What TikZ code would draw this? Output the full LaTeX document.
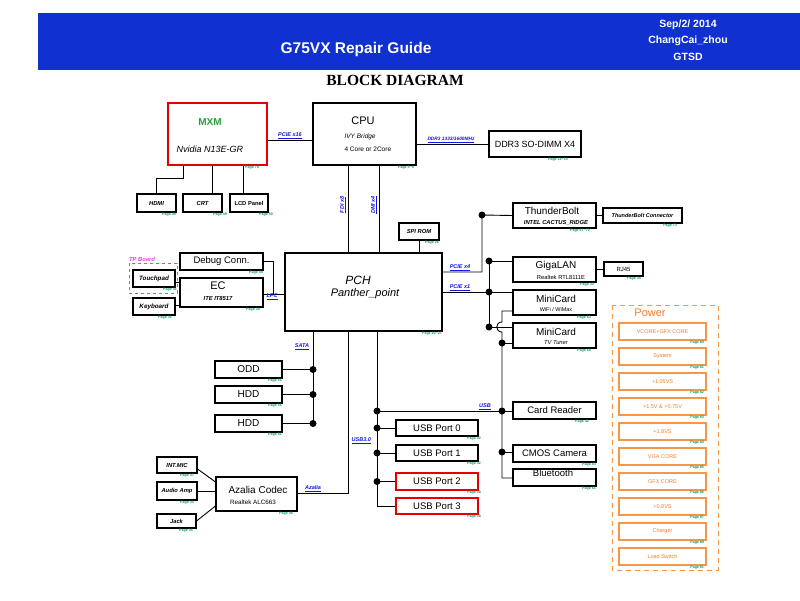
\documentclass[tikz,border=0pt]{standalone}
\usepackage{fontspec}
\setmainfont{Liberation Sans}
\newfontfamily\tnrfont{Liberation Serif}
\newcommand{\myfs}[1]{\fontsize{#1}{#1}\selectfont}
\definecolor{hdrblue}{RGB}{16,48,208}
\definecolor{busblue}{RGB}{20,20,235}
\definecolor{pgreen}{RGB}{0,150,90}
\definecolor{pwrorange}{RGB}{247,150,70}
\definecolor{pwrtext}{RGB}{240,125,45}
\definecolor{tpmag}{RGB}{230,60,220}
\definecolor{mxmgreen}{RGB}{40,160,60}
\begin{document}
\begin{tikzpicture}[x=1pt,y=-1pt,
  box/.style={draw, line width=1.1pt, inner sep=0pt, fill=white},
  redbox/.style={box, draw=red!90!black},
  pwrbox/.style={draw=pwrorange, line width=1.3pt, inner sep=0pt, minimum width=87, minimum height=17, text=pwrtext, font=\myfs{5.5}},
  wire/.style={line width=0.9pt},
  dot/.style={circle, fill=black, inner sep=0pt, minimum size=7pt},
  pg/.style={text=pgreen, font=\bfseries\myfs{3.6}, inner sep=0.5pt, anchor=north east},
  bus/.style={text=busblue, font=\bfseries\itshape\myfs{5.5}, inner sep=0.5pt},
  hdr/.style={text=white, font=\bfseries\myfs{10.5}, inner sep=0pt}
]
\useasboundingbox (0,0) rectangle (800,600);

% ---------- header ----------
\node[fill=hdrblue, minimum width=762, minimum height=57, anchor=north west, inner sep=0pt] (band) at (38,13) {};
\node[hdr, font=\bfseries\myfs{15.5}] (title) at (356,49) {G75VX Repair Guide};
\node[hdr] (date) at (688,25) {Sep/2/ 2014};
\node[hdr] (author) at (688,41) {ChangCai\_zhou};
\node[hdr] (dept) at (688,57) {GTSD};
\node[font=\tnrfont\bfseries\myfs{15.5}, inner sep=0pt] (bd) at (395,80) {BLOCK DIAGRAM};

% ---------- top: MXM / CPU / DDR ----------
\node[redbox, minimum width=99, minimum height=62] (mxm) at (217.5,134) {};
\node[text=mxmgreen, font=\bfseries\myfs{10}] (mxmt) at (210,122) {MXM};
\node[font=\itshape\myfs{9}] (mxms) at (210,149) {Nvidia N13E-GR};
\node[pg] (pmxm) at ([xshift=-8pt]mxm.south east) {Page 70};

\node[box, minimum width=103, minimum height=62] (cpu) at (364.5,134) {};
\node[font=\myfs{11}] (cput) at (363,121) {CPU};
\node[font=\itshape\myfs{6.5}, anchor=west] (cpus1) at (341,137) {IVY Bridge};
\node[font=\myfs{6.5}, anchor=west] (cpus2) at (341,149) {4 Core or 2Core};
\node[pg] (pcpu) at ([xshift=-2pt]cpu.south east) {Page 3\textasciitilde 9};

\node[box, minimum width=92, minimum height=26, font=\myfs{9}] (ddr) at (535,144) {DDR3 SO-DIMM X4};
\node[pg] (pddr) at ([xshift=-13pt]ddr.south east) {Page 14\textasciitilde 15};

\draw[wire] ([yshift=-6pt]mxm.east) -- ([yshift=-6pt]cpu.west);
\node[bus, anchor=south] (lpcie16) at (290,139) {\underline{PCIE x16}};
\draw[wire] ([yshift=-10pt]cpu.east) -- (ddr.west);
\node[bus, anchor=south, font=\bfseries\itshape\myfs{4.8}] (lddr) at (451,143) {\underline{DDR3 1333/1600MHz}};

% ---------- display outputs ----------
\node[box, minimum width=39, minimum height=18, font=\bfseries\itshape\myfs{5.8}] (hdmi) at (156.5,203) {HDMI};
\node[box, minimum width=39, minimum height=18, font=\bfseries\itshape\myfs{5.8}] (crt) at (202.5,203) {CRT};
\node[box, minimum width=38, minimum height=18, font=\bfseries\myfs{5.8}] (lcd) at (249,203) {LCD Panel};
\node[pg] (phdmi) at (hdmi.south east) {Page 48};
\node[pg] (pcrt) at ([xshift=5pt]crt.south east) {Page 49};
\node[pg] (plcd) at ([xshift=5pt]lcd.south east) {Page 50};
\draw[wire] ([xshift=-34.5pt]mxm.south) -- ++(0,13) -| (hdmi.north);
\draw[wire] ([xshift=9.5pt]crt.north) -- ([xshift=9.5pt]crt.north |- mxm.south);
\draw[wire] ([xshift=-6pt]lcd.north) -- ([xshift=-6pt]lcd.north |- mxm.south);

% ---------- PCH ----------
\node[box, minimum width=157, minimum height=78] (pch) at (363.5,292) {};
\node[font=\itshape\myfs{12}] (pcht) at (358,280) {PCH};
\node[font=\itshape\myfs{11}] (pchs) at (365,294) {Panther\_point};
\node[pg] (ppch) at (pch.south east) {Page 20\textasciitilde 27};

\draw[wire] ([xshift=-16.5pt]cpu.south) -- ([xshift=-16.5pt]cpu.south |- pch.north);
\draw[wire] ([xshift=14.5pt]cpu.south) -- ([xshift=14.5pt]cpu.south |- pch.north);
\node[bus, rotate=90] (lfdi) at (343,205) {\underline{FDI x8}};
\node[bus, rotate=90] (ldmi) at (374,205) {\underline{DMI x4}};

\node[box, minimum width=40, minimum height=17, font=\bfseries\itshape\myfs{5.8}] (spi) at (419,231.5) {SPI ROM};
\node[pg] (pspi) at (spi.south east) {Page 26};
\draw[wire] (spi.south) -- (spi.south |- pch.north);

% ---------- Thunderbolt ----------
\node[box, minimum width=83, minimum height=25] (tb) at (554.5,215.5) {};
\node[font=\myfs{10}] (tbt) at (552,211) {ThunderBolt};
\node[font=\bfseries\itshape\myfs{5.8}] (tbs) at (556,223) {INTEL CACTUS\_RIDGE};
\node[pg] (ptb) at ([xshift=-6pt]tb.south east) {Page 67\textasciitilde 72};
\node[box, minimum width=79, minimum height=15, font=\bfseries\itshape\myfs{5.5}] (tbc) at (642.5,215.5) {ThunderBolt Connector};
\node[pg] (ptbc) at ([xshift=-5pt]tbc.south east) {Page 73};
\draw[wire] (tb.east) -- (tbc.west);
\node[dot] (dtb) at (482,215) {};
\draw[wire] ([yshift=20pt]pch.east) -| (dtb.center) -- (tb.west);
\node[bus, anchor=south] (lpcie4) at (460,271) {\underline{PCIE x4}};

% ---------- LAN / MiniCard ----------
\node[box, minimum width=83, minimum height=25] (lan) at (554.5,269.5) {};
\node[font=\myfs{10}] (lant) at (556,265.5) {GigaLAN};
\node[font=\myfs{5.8}] (lans) at (561,277) {Realtek RTL8111E};
\node[pg] (plan) at ([xshift=-2pt]lan.south east) {Page 33};
\node[box, minimum width=39, minimum height=14, font=\myfs{6}] (rj) at (623.5,269) {RJ45};
\node[pg] (prj) at ([xshift=-2pt]rj.south east) {Page 34};
\draw[wire] (lan.east |- rj.west) -- (rj.west);

\node[box, minimum width=83, minimum height=25] (mc1) at (554.5,302.5) {};
\node[font=\myfs{10}] (mc1t) at (556,298.5) {MiniCard};
\node[font=\myfs{5.5}] (mc1s) at (556,310) {WiFi / WiMax};
\node[pg] (pmc1) at ([xshift=-5pt]mc1.south east) {Page 63};
\node[box, minimum width=83, minimum height=25] (mc2) at (554.5,335.5) {};
\node[font=\myfs{10}] (mc2t) at (556,331.5) {MiniCard};
\node[font=\itshape\myfs{5.8}] (mc2s) at (556,343) {TV Tuner};
\node[pg] (pmc2) at ([xshift=-5pt]mc2.south east) {Page 64};

\node[dot] (dp1) at (489,261) {};
\node[dot] (dp2) at (489,292) {};
\node[dot] (dp3) at (489,327) {};
\draw[wire] (pch.east) -- (dp2.center);
\draw[wire] (dp1.center) -- (dp3.center);
\draw[wire] (dp1.center) -- (lan.west |- dp1.center);
\draw[wire] (dp2.center) -- (mc1.west |- dp2.center);
\draw[wire] (dp3.center) -- (mc2.west |- dp3.center);
\node[bus, anchor=south] (lpcie1) at (460,291) {\underline{PCIE x1}};

% ---------- right USB bus ----------
\node[box, minimum width=83, minimum height=17, font=\myfs{9.5}] (card) at (554.5,410.5) {Card Reader};
\node[pg] (pcard) at ([xshift=-7pt]card.south east) {Page 42};
\node[box, minimum width=83, minimum height=17, font=\myfs{9.5}] (cmos) at (554.5,453.5) {CMOS Camera};
\node[pg] (pcmos) at (cmos.south east) {Page 43};
\node[box, minimum width=83, minimum height=17] (bt) at (554.5,477.5) {};
\node[font=\myfs{9.5}] (btt) at (553,473.5) {Bluetooth};
\node[pg] (pbt) at (bt.south east) {Page 61};

\coordinate (ur0) at (502,311);
\node[dot] (du1) at (502,343) {};
\node[dot] (du2) at (502,411) {};
\node[dot] (du3) at (502,452) {};
\coordinate (ur4) at (502,478);
\draw[wire] (mc1.west |- ur0) -- (ur0) -- (502,322) .. controls (495,322) and (495,332) .. (502,332) -- (ur4) -- (bt.west |- ur4);
\draw[wire] (du1.center) -- (mc2.west |- du1.center);
\draw[wire] (du2.center) -- (card.west |- du2.center);
\draw[wire] (du3.center) -- (cmos.west |- du3.center);
\node[bus, anchor=south] (lusb) at (485,410) {\underline{USB}};

% ---------- left USB bus ----------
\node[box, minimum width=82, minimum height=16, font=\myfs{9.5}] (usb0) at (437,428) {USB Port 0};
\node[box, minimum width=82, minimum height=16, font=\myfs{9.5}] (usb1) at (437,453) {USB Port 1};
\node[redbox, minimum width=82, minimum height=17, font=\myfs{9.5}] (usb2) at (437,481.5) {USB Port 2};
\node[redbox, minimum width=82, minimum height=16, font=\myfs{9.5}] (usb3) at (437,506) {USB Port 3};
\node[pg] (pusb0) at ([xshift=3pt]usb0.south east) {Page 32};
\node[pg] (pusb1) at ([xshift=3pt]usb1.south east) {Page 32};
\node[pg] (pusb2) at ([xshift=3pt]usb2.south east) {Page 38};
\node[pg] (pusb3) at ([xshift=3pt]usb3.south east) {Page 38};
\node[dot] (dl0) at (377,411) {};
\node[dot] (dl1) at (377,428) {};
\node[dot] (dl2) at (377,453) {};
\node[dot] (dl3) at (377,481.5) {};
\coordinate (dl4) at (377,506);
\draw[wire] ([xshift=13.5pt]pch.south) -- (dl4) -- (usb3.west);
\draw[wire] (dl0.center) -- (du2.center);
\draw[wire] (dl1.center) -- (usb0.west);
\draw[wire] (dl2.center) -- (usb1.west);
\draw[wire] (dl3.center) -- (usb2.west);
\node[bus, anchor=west] (lusb3) at (351,441) {\underline{USB3.0}};

% ---------- SATA ----------
\node[box, minimum width=67, minimum height=17, font=\myfs{10}] (odd) at (248.5,369.5) {ODD};
\node[box, minimum width=67, minimum height=17, font=\myfs{10}] (hdd1) at (248.5,394.5) {HDD};
\node[box, minimum width=67, minimum height=17, font=\myfs{10}] (hdd2) at (248.5,423.5) {HDD};
\node[pg] (podd) at (odd.south east) {Page 51};
\node[pg] (phdd1) at (hdd1.south east) {Page 51};
\node[pg] (phdd2) at (hdd2.south east) {Page 51};
\node[dot] (ds1) at (313,369.5) {};
\node[dot] (ds2) at (313,394.5) {};
\coordinate (ds3c) at (313,423.5);
\node[dot] (ds3) at (ds3c) {};
\draw[wire] ([xshift=-50.5pt]pch.south) -- (ds3c);
\draw[wire] (odd.east) -- (ds1.center);
\draw[wire] (hdd1.east) -- (ds2.center);
\draw[wire] (hdd2.east) -- (ds3.center);
\node[bus] (lsata) at (302,347) {\underline{SATA}};

% ---------- LPC side ----------
\node[box, minimum width=83, minimum height=17, font=\myfs{9.5}] (dbg) at (221.5,261.5) {Debug Conn.};
\node[pg] (pdbg) at (dbg.south east) {Page 44};
\node[box, minimum width=83, minimum height=29] (ec) at (221.5,292.5) {};
\node[font=\myfs{11}] (ect) at (218,286) {EC};
\node[font=\bfseries\itshape\myfs{5.8}] (ecs) at (218,298.5) {ITE IT8517};
\node[pg] (pec) at ([xshift=-3pt]ec.south east) {Page 30};
\draw[tpmag, dashed, line width=0.7pt] (129,263) rectangle (177,293);
\node[text=tpmag, font=\bfseries\itshape\myfs{5.8}, anchor=west, inner sep=0pt] (tpb) at (129,259) {TP Board};
\node[box, minimum width=42, minimum height=17, font=\bfseries\itshape\myfs{6.3}] (tpad) at (154,278.5) {Touchpad};
\node[pg] (ptpad) at ([xshift=2pt]tpad.south east) {Page 31};
\node[box, minimum width=42, minimum height=17, font=\bfseries\itshape\myfs{6.3}] (kbd) at (154,306.5) {Keyboard};
\node[pg] (pkbd) at ([xshift=-3pt]kbd.south east) {Page 31};
\draw[wire] ([yshift=-3.5pt]tpad.east) -- (ec.west |- 0,282);
\draw[wire] ([yshift=1.5pt]kbd.east) -- (ec.west |- 0,305);
\coordinate (lj) at (273,294);
\draw[wire] (dbg.east) -| (lj);
\draw[wire] (ec.east |- lj) -- (pch.west |- lj);
\node[bus, anchor=north] (llpc) at (272,293) {\underline{LPC}};

% ---------- Audio ----------
\node[box, minimum width=81, minimum height=34] (aza) at (256.5,494) {};
\node[font=\myfs{10}] (azat) at (258,490) {Azalia Codec};
\node[font=\myfs{6.3}] (azas) at (253,502) {Realtek ALC663};
\node[pg] (paza) at ([xshift=-4pt]aza.south east) {Page 36};
\node[box, minimum width=40, minimum height=16, font=\bfseries\itshape\myfs{5.8}] (mic) at (177,465) {INT.MIC};
\node[box, minimum width=40, minimum height=18, font=\bfseries\itshape\myfs{5.8}] (amp) at (177,491) {Audio Amp};
\node[box, minimum width=39, minimum height=14, font=\bfseries\itshape\myfs{5.8}] (jack) at (176.5,521) {Jack};
\node[pg] (pmic) at ([xshift=-3pt]mic.south east) {Page 37};
\node[pg] (pamp) at ([xshift=-3pt]amp.south east) {Page 35};
\node[pg] (pjack) at ([xshift=-3pt]jack.south east) {Page 35};
\draw[wire] ([yshift=-4pt]mic.east) -- ([yshift=12pt]aza.west);
\draw[wire] (amp.east) -- (aza.west |- amp.east);
\draw[wire] (jack.east) -- ([yshift=-12pt]aza.west);
\coordinate (aj) at (348.5,493);
\draw[wire] (aza.east |- aj) -- (aj) -- (aj |- pch.south);
\node[bus, anchor=south] (laza) at (313,492) {\underline{Azalia}};

% ---------- Power ----------
\draw[pwrorange, dashed, dash pattern=on 5pt off 4pt, line width=1pt] (612,305) rectangle (718,570);
\node[text=pwrtext, font=\myfs{11}] (pwrt) at (650,313) {Power};
\node[pwrbox] (pw1) at (662.5,331.5) {VCORE+GFX CORE};
\node[pwrbox] (pw2) at (662.5,356.5) {System};
\node[pwrbox] (pw3) at (662.5,381.5) {+1.05VS};
\node[pwrbox] (pw4) at (662.5,406.5) {+1.5V \& +0.75V};
\node[pwrbox] (pw5) at (662.5,431.5) {+1.8VS};
\node[pwrbox] (pw6) at (662.5,456.5) {VGA CORE};
\node[pwrbox] (pw7) at (662.5,481.5) {GFX CORE};
\node[pwrbox] (pw8) at (662.5,506.5) {+0.8VS};
\node[pwrbox] (pw9) at (662.5,531.5) {Charger};
\node[pwrbox] (pw10) at (662.5,556.5) {Load Switch};
\node[pg] (ppw1) at ([xshift=-2pt]pw1.south east) {Page 80};
\node[pg] (ppw2) at ([xshift=-2pt]pw2.south east) {Page 81};
\node[pg] (ppw3) at ([xshift=-2pt]pw3.south east) {Page 82};
\node[pg] (ppw4) at ([xshift=-2pt]pw4.south east) {Page 83};
\node[pg] (ppw5) at ([xshift=-2pt]pw5.south east) {Page 84};
\node[pg] (ppw6) at ([xshift=-2pt]pw6.south east) {Page 85};
\node[pg] (ppw7) at ([xshift=-2pt]pw7.south east) {Page 86};
\node[pg] (ppw8) at ([xshift=-2pt]pw8.south east) {Page 87};
\node[pg] (ppw9) at ([xshift=-2pt]pw9.south east) {Page 89};
\node[pg] (ppw10) at ([xshift=-2pt]pw10.south east) {Page 91};
\end{tikzpicture}
\end{document}
